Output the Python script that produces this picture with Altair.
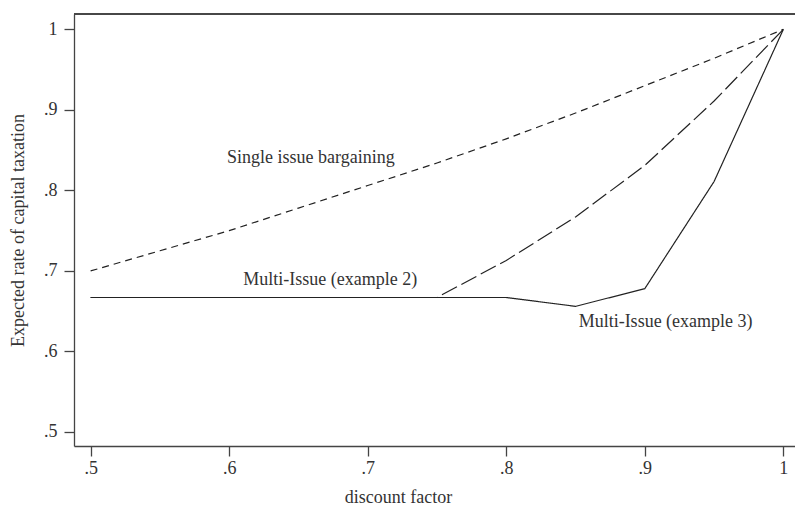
import altair as alt
import pandas as pd

# Discount factor grid and expected capital tax rate under each bargaining regime
delta = [0.50, 0.55, 0.60, 0.65, 0.70, 0.75, 0.80, 0.85, 0.90, 0.95, 1.00]
single_issue = [0.700, 0.725, 0.750, 0.778, 0.806, 0.834, 0.864, 0.896, 0.930, 0.964, 1.000]
multi_issue_ex2 = [0.667, 0.667, 0.667, 0.667, 0.667, 0.667, 0.713, 0.767, 0.831, 0.911, 1.000]
multi_issue_ex3 = [0.667, 0.667, 0.667, 0.667, 0.667, 0.667, 0.667, 0.656, 0.678, 0.811, 1.000]

series_names = ["Single issue bargaining", "Multi-Issue (example 2)", "Multi-Issue (example 3)"]
series_values = [single_issue, multi_issue_ex2, multi_issue_ex3]

# Curve annotations (placed in data units)
label_text = series_names
label_x = [0.659, 0.673, 0.915]
label_y = [0.840, 0.689, 0.636]

rows = []
for name, vals in zip(series_names, series_values):
    for d, v in zip(delta, vals):
        rows.append({"delta": d, "rate": v, "series": name})
df = pd.DataFrame(rows)
labels = pd.DataFrame({"text": label_text, "delta": label_x, "rate": label_y})

FONT = "'Liberation Serif', 'Times New Roman', 'DejaVu Serif', serif"
INK = "#222222"
TEXT = "#333333"
AXIS = "#444444"
FS = 18

tick_vals = [0.5, 0.6, 0.7, 0.8, 0.9, 1.0]
label_expr = "datum.value >= 1 ? '1' : replace(format(datum.value, '.1f'), '0.', '.')"

x_scale = alt.Scale(domain=[0.488, 1.0084], nice=False, zero=False)
y_scale = alt.Scale(domain=[0.4826, 1.019], nice=False, zero=False)

x_enc = alt.X(
    "delta:Q", scale=x_scale,
    axis=alt.Axis(
        title="discount factor", values=tick_vals, labelExpr=label_expr,
        grid=False, tickSize=10, labelPadding=3, titleX=324, titleY=51,
        titleBaseline="middle", titleAnchor="start", titleAlign="center",
    ),
)
y_enc = alt.Y(
    "rate:Q", scale=y_scale,
    axis=alt.Axis(
        title="Expected rate of capital taxation", values=tick_vals,
        labelExpr=label_expr, grid=False, tickSize=10, labelPadding=7,
        titleX=-56, titleY=216, titleBaseline="middle", titleAngle=-90,
        titleAlign="center",
    ),
)

lines = alt.Chart(df).mark_line(color=INK, strokeWidth=1.2).encode(
    x=x_enc,
    y=y_enc,
    detail="series:N",
    strokeDash=alt.StrokeDash(
        "series:N",
        scale=alt.Scale(domain=series_names, range=[[7, 5], [17, 5], [1, 0]]),
        legend=None,
    ),
)

text = alt.Chart(labels).mark_text(font=FONT, fontSize=FS, color=TEXT).encode(
    x=alt.X("delta:Q", scale=x_scale),
    y=alt.Y("rate:Q", scale=y_scale),
    text="text:N",
)

top_border = alt.Chart(labels).mark_rule(color=AXIS, strokeWidth=1.3).encode(
    x=alt.value(0), x2=alt.value(730), y=alt.value(0)
)

chart = (
    alt.layer(lines, text, top_border)
    .properties(
        width=721, height=432,
        autosize=alt.AutoSizeParams(type="none"),
        padding={"left": 74, "top": 14, "right": 0, "bottom": 63},
        background="white",
    )
    .configure_view(stroke=None)
    .configure_axis(
        labelFont=FONT, titleFont=FONT, labelFontSize=FS, titleFontSize=FS,
        labelColor=TEXT, titleColor=TEXT, titleFontWeight="normal",
        domainColor=AXIS, tickColor=AXIS, domainWidth=1.3, tickWidth=1.3,
    )
)

chart.save("out.html", embed_options={"renderer": "svg", "actions": False})
